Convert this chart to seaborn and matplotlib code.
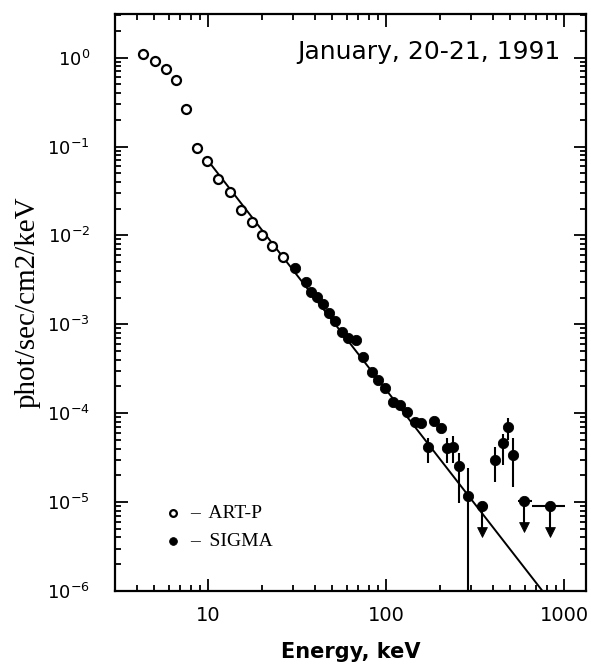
import numpy as np
import pandas as pd
import matplotlib
matplotlib.use("Agg")
import matplotlib.pyplot as plt
import seaborn as sns
from matplotlib.ticker import LogLocator, NullFormatter, LogFormatterSciNotation, FixedLocator, FixedFormatter

# ---------------- data ----------------
artp_E = [4.30, 5.01, 5.78, 6.64, 7.55, 8.67, 9.91, 11.4, 13.2, 15.3, 17.6, 20.2, 23.0, 26.5]
artp_F = [1.11, 0.925, 0.752, 0.565, 0.264, 0.0969, 0.0692, 0.0434, 0.0307, 0.0194,
          0.0143, 0.0101, 0.00769, 0.00569]

sigma_E = [30.6, 35.6, 38.0, 40.9, 44.2, 48.1, 51.8, 56.5, 61.5, 67.9, 74.7, 83.2, 90.6,
           98.8, 110, 120, 131, 146, 157, 173, 185, 203, 219, 239, 257, 288, 409, 456, 486, 519]
sigma_F = [4.28e-3, 3.03e-3, 2.33e-3, 2.05e-3, 1.68e-3, 1.33e-3, 1.10e-3, 8.28e-4, 6.97e-4,
           6.67e-4, 4.33e-4, 2.93e-4, 2.36e-4, 1.91e-4, 1.35e-4, 1.24e-4, 1.04e-4, 8.02e-5,
           7.8e-5, 4.2e-5, 8.17e-5, 6.76e-5, 4.03e-5, 4.2e-5, 2.54e-5, 1.17e-5, 2.97e-5,
           4.58e-5, 7.05e-5, 3.38e-5]

# points with visible vertical error bars
err_E = [173, 219, 239, 257, 288, 409, 456, 486, 519]
err_F = [4.2e-5, 4.03e-5, 4.2e-5, 2.54e-5, 1.17e-5, 2.97e-5, 4.58e-5, 7.05e-5, 3.38e-5]
err_lo = [2.75e-5, 2.75e-5, 2.75e-5, 9.7e-6, 1.0e-7, 1.69e-5, 2.6e-5, 4.99e-5, 1.49e-5]
err_hi = [5.25e-5, 5.25e-5, 5.5e-5, 3.56e-5, 2.41e-5, 4.2e-5, 5.9e-5, 8.75e-5, 5.26e-5]

# upper limits
ul_E = [348, 596, 834]
ul_F = [9.0e-6, 1.03e-5, 9.0e-6]
ul_arrow = [4.63e-6, 5.27e-6, 4.63e-6]
ul_Elo = [325, 551, 658]
ul_Ehi = [375, 661, 1012]

# power-law model line (end points)
line_E = [10, 757]
line_F = [0.0692, 1.0e-6]

title_text = "January, 20-21, 1991"
labels = ["\u2013  ART-P", "\u2013  SIGMA"]

# ---------------- plotting ----------------
sns.set_theme(style="ticks")
plt.rcParams["font.family"] = ["DejaVu Sans"]
plt.rcParams["axes.linewidth"] = 1.6

fig = plt.figure(figsize=(5.91, 6.65), dpi=100)
ax = fig.add_axes([0.1946, 0.1113, 0.797, 0.8677])
ax.set_xscale("log")
ax.set_yscale("log")

sns.lineplot(x=line_E, y=line_F, ax=ax, color="black", lw=1.4, zorder=2)

# error bars
ax.errorbar(err_E, err_F,
            yerr=[np.array(err_F) - np.array(err_lo), np.array(err_hi) - np.array(err_F)],
            fmt="none", ecolor="black", elinewidth=1.5, capsize=0, zorder=3)
ax.errorbar(ul_E, ul_F,
            xerr=[np.array(ul_E) - np.array(ul_Elo), np.array(ul_Ehi) - np.array(ul_E)],
            yerr=[np.array(ul_F) - np.array(ul_arrow), np.zeros(len(ul_F))],
            fmt="none", ecolor="black", elinewidth=1.5, capsize=0, zorder=3)

sns.scatterplot(x=artp_E, y=artp_F, ax=ax, marker="o", s=42, facecolor="white",
                edgecolor="black", linewidth=1.6, label=labels[0], zorder=4)
sns.scatterplot(x=sigma_E, y=sigma_F, ax=ax, marker="o", s=55, color="black",
                edgecolor="black", label=labels[1], zorder=4)
sns.scatterplot(x=ul_E, y=ul_F, ax=ax, marker="o", s=55, color="black",
                edgecolor="black", zorder=4, legend=False)
sns.scatterplot(x=ul_E, y=ul_arrow, ax=ax, marker="v", s=50, color="black",
                edgecolor="black", zorder=4, legend=False)

ax.set_xlim(3.0, 1330)
ax.set_ylim(1e-6, 3.1)

# ticks
ax.xaxis.set_major_locator(FixedLocator([10, 100, 1000]))
ax.xaxis.set_major_formatter(FixedFormatter(["10", "100", "1000"]))
ax.xaxis.set_minor_locator(LogLocator(base=10, subs=np.arange(2, 10), numticks=20))
ax.xaxis.set_minor_formatter(NullFormatter())
ax.yaxis.set_major_locator(LogLocator(base=10, numticks=20))
ax.yaxis.set_major_formatter(LogFormatterSciNotation())
ax.yaxis.set_minor_locator(LogLocator(base=10, subs=np.arange(2, 10), numticks=20))
ax.yaxis.set_minor_formatter(NullFormatter())

ax.tick_params(which="both", direction="in", top=True, right=True, color="black", width=1.3)
ax.tick_params(which="major", length=9)
ax.tick_params(which="minor", length=4.5)
ax.tick_params(axis="x", which="major", labelsize=14, pad=11)
ax.tick_params(axis="y", which="major", labelsize=13, pad=18)
for t in ax.get_xticklabels() + ax.get_yticklabels():
    t.set_color("black")

for s in ax.spines.values():
    s.set_color("black")

ax.set_xlabel("Energy, keV", fontsize=15, fontweight="bold", family="DejaVu Sans",
              labelpad=12, color="black")
ax.set_ylabel("phot/sec/cm2/keV", fontsize=21, family="Liberation Serif",
              labelpad=5, color="black")

ax.text(0.945, 0.934, title_text, transform=ax.transAxes, ha="right", va="center",
        fontsize=18, family="DejaVu Sans", color="black")

leg = ax.legend(loc="lower left", bbox_to_anchor=(0.065, 0.04), frameon=False,
                prop={"family": "Liberation Serif", "size": 14},
                handletextpad=0.4, labelspacing=0.55, markerscale=0.75,
                handlelength=1.0)
for t in leg.get_texts():
    t.set_color("black")

fig.savefig("out.png", dpi=100, facecolor="white")
